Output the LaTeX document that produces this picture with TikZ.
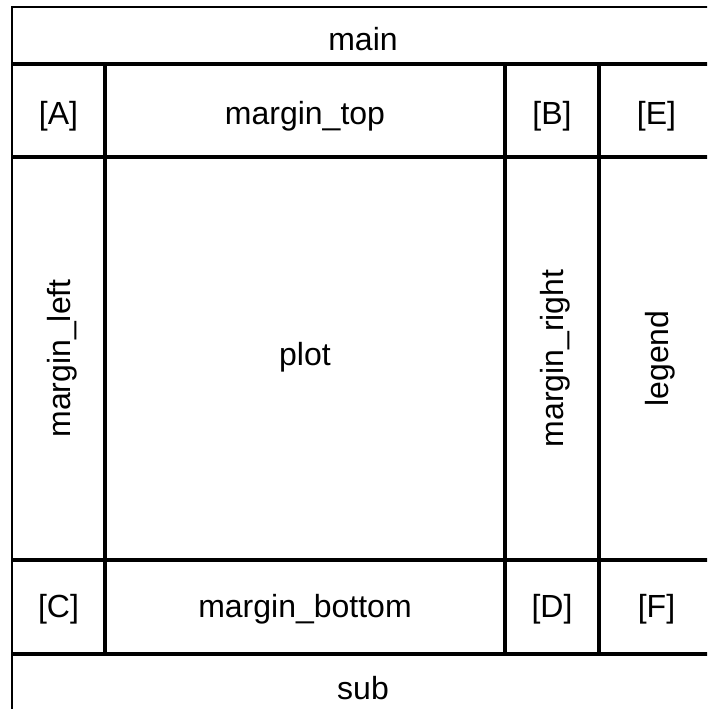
\documentclass[tikz,border=0pt]{standalone}
\usepackage{fontspec}
\setmainfont{Liberation Sans}
\begin{document}
\begin{tikzpicture}[x=1pt,y=-1pt,
  cell/.style={inner sep=0pt, anchor=base, font=\fontsize{32}{38}\selectfont},
  vcell/.style={cell, rotate=90},
  thin/.style={line width=1.8pt},
  thick/.style={line width=3.3pt},
  vthick/.style={thick, line cap=rect}]
\useasboundingbox (0,0) rectangle (707,709);
\clip (0,0) rectangle (707,709);
% outer frame
\draw[thin] (12,7) rectangle (714,722);
% inner grid
\draw[thick] (12,64) -- (714,64);
\draw[thick] (12,157) -- (714,157);
\draw[thick] (12,560) -- (714,560);
\draw[thick] (12,654) -- (714,654);
\draw[vthick] (105,64) -- (105,654);
\draw[vthick] (505,64) -- (505,654);
\draw[vthick] (599,64) -- (599,654);
% labels
\node[cell] (main) at (363,50.5) {main};
\node[cell] (A) at (58.5,124) {[A]};
\node[cell] (mtop) at (305,124) {margin\_top};
\node[cell] (B) at (552,124) {[B]};
\node[cell] (E) at (656.5,124) {[E]};
\node[vcell] (mleft) at (70,358.5) {margin\_left};
\node[cell] (plot) at (305,365) {plot};
\node[vcell] (mright) at (563.5,358.5) {margin\_right};
\node[vcell] (legend) at (668,358.5) {legend};
\node[cell] (C) at (58.5,617) {[C]};
\node[cell] (mbottom) at (305,617) {margin\_bottom};
\node[cell] (D) at (552,617) {[D]};
\node[cell] (F) at (656.5,617) {[F]};
\node[cell] (sub) at (363,699.5) {sub};
\end{tikzpicture}
\end{document}
